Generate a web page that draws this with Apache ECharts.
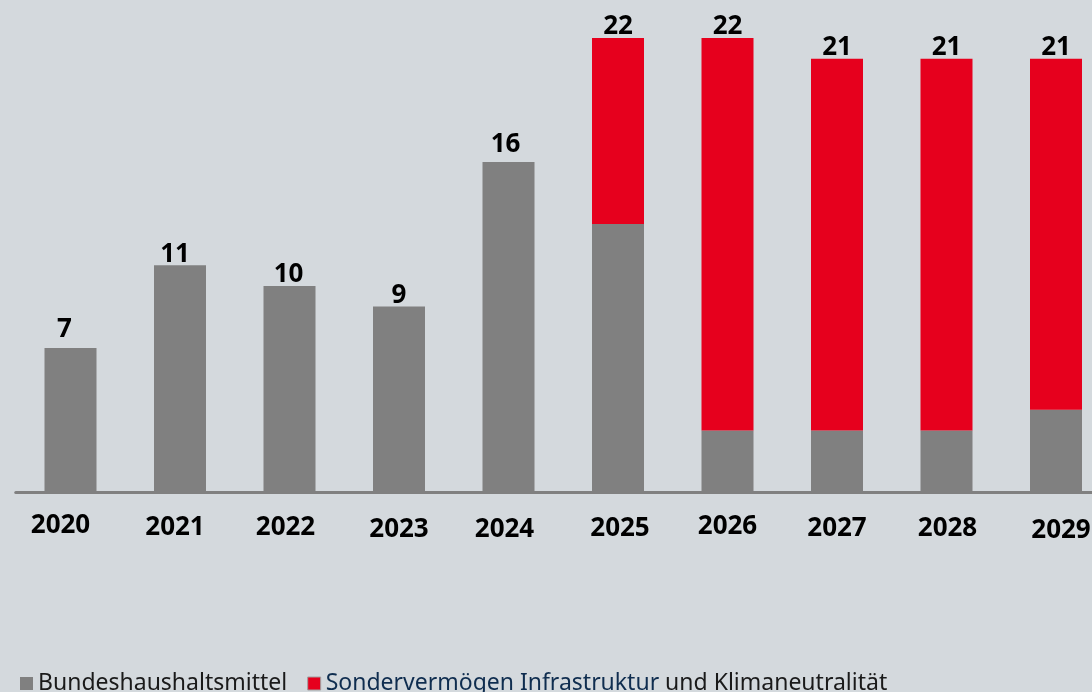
<!DOCTYPE html>
<html>
<head>
<meta charset="utf-8">
<script src="https://cdn.jsdelivr.net/npm/echarts@6/dist/echarts.min.js"></script>
<style>
html,body{margin:0;padding:0;background:#d4d9dd;overflow:hidden;}
#c{width:1112px;height:692px;}
</style>
</head>
<body>
<div id="c"></div>
<script>
const years = ['2020','2021','2022','2023','2024','2025','2026','2027','2028','2029'];
const bundes = [7, 11, 10, 9, 16, 13, 3, 3, 3, 4];
const sonder = [null, null, null, null, null, 9, 19, 18, 18, 17];
const seriesNames = ['Bundeshaushaltsmittel', 'Sondervermögen Infrastruktur und Klimaneutralität'];

// small layout nudges for the staggered labels (style only)
const labelDy = [0, 2, 2, 4, 4, 3, 1, 3, 3, 5];
const labelDx = [-10, -5, -4, 0, -4, 2, 0, 0, 1, 5];
const valDx = [-6, -5, -1, 0, -3, 0, 0, 0, 0, 0];
const valDy = [-7, 0, 0, 0, -6, 0, 0, 0, 0, 0];

const totals = years.map((_, i) => (bundes[i] || 0) + (sonder[i] || 0));

const catData = years.map((y, i) => {
  const dx = labelDx[i], dy = labelDy[i];
  return {
    value: y,
    textStyle: {
      padding: [dy, dx < 0 ? -2 * dx : 0, 0, dx > 0 ? 2 * dx : 0]
    }
  };
});

function withLabelNudge(arr) {
  return arr.map((v, i) => ({value: v, label: {offset: [valDx[i], valDy[i]]}}));
}

const chart = echarts.init(document.getElementById('c'), null, {renderer: 'canvas'});
const valLabel = {
  show: true,
  position: 'top',
  distance: -2,
  color: '#000',
  fontFamily: 'Noto Sans',
  fontWeight: 'bold',
  fontSize: 26
};
chart.setOption({
  backgroundColor: '#d4d9dd',
  animation: false,
  grid: {left: 15.75, top: 38, width: 1095, height: 454.5},
  xAxis: {
    type: 'category',
    data: catData,
    offset: 2,
    axisLine: {lineStyle: {color: '#808080', width: 3}},
    axisTick: {show: false},
    axisLabel: {
      margin: 18,
      color: '#000',
      fontFamily: 'Noto Sans',
      fontWeight: 'bold',
      fontSize: 26,
      verticalAlign: 'top',
      interval: 0
    }
  },
  yAxis: {type: 'value', min: 0, max: 22, show: false, splitLine: {show: false}},
  legend: {
    left: 15,
    top: 667,
    icon: 'rect',
    itemWidth: 13,
    itemHeight: 13,
    itemGap: 20,
    textStyle: {
      fontFamily: 'Noto Sans',
      fontSize: 23,
      color: '#1a1a1a',
      rich: {
        n: {fontFamily: 'Noto Sans', fontSize: 23, color: '#0f2d4f'},
        d: {fontFamily: 'Noto Sans', fontSize: 23, color: '#1a1a1a'}
      }
    },
    formatter: function (name) {
      if (name === seriesNames[1]) {
        return '{n|Sondervermögen Infrastruktur}{d| und Klimaneutralität}';
      }
      return name;
    },
    data: [
      {name: seriesNames[0]},
      {name: seriesNames[1], itemStyle: {borderColor: '#a0a0a0', borderWidth: 1}}
    ]
  },
  series: [
    {
      name: seriesNames[0],
      type: 'bar',
      stack: 'a',
      barWidth: 52,
      data: withLabelNudge(bundes),
      itemStyle: {color: '#808080'},
      label: Object.assign({}, valLabel, {
        formatter: p => (sonder[p.dataIndex] == null ? String(totals[p.dataIndex]) : '')
      })
    },
    {
      name: seriesNames[1],
      type: 'bar',
      stack: 'a',
      barWidth: 52,
      data: withLabelNudge(sonder),
      itemStyle: {color: '#e6001d'},
      label: Object.assign({}, valLabel, {
        formatter: p => String(totals[p.dataIndex])
      })
    }
  ]
});
</script>
</body>
</html>
